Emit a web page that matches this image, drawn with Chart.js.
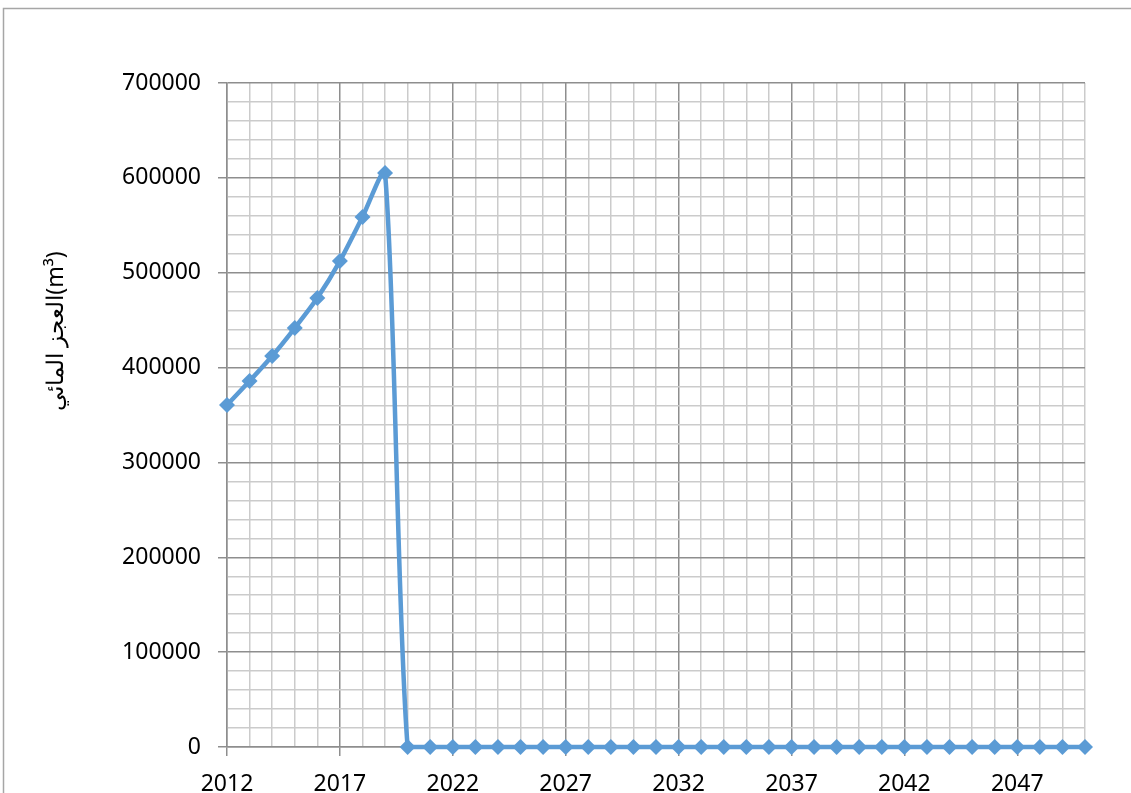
<!DOCTYPE html>
<html lang="en">
  <head>
    <meta charset="utf-8" />
    <title>العجز المائي</title>
    <script src="https://cdn.jsdelivr.net/npm/chart.js/dist/chart.umd.min.js"></script>
    <style>
      * {
        margin: 0;
        padding: 0;
      }
      body {
        background: #fff;
      }
      .chartBox {
        width: 1131px;
        height: 793px;
        position: relative;
      }
    </style>
  </head>
  <body>
    <div class="chartBox">
      <canvas id="myChart"></canvas>
    </div>

    <script>
      // years 2012..2050
      const years = [
        2012, 2013, 2014, 2015, 2016, 2017, 2018, 2019, 2020, 2021, 2022, 2023, 2024,
        2025, 2026, 2027, 2028, 2029, 2030, 2031, 2032, 2033, 2034, 2035, 2036, 2037,
        2038, 2039, 2040, 2041, 2042, 2043, 2044, 2045, 2046, 2047, 2048, 2049, 2050,
      ];
      // water deficit, m3
      const deficit = [
        360500, 385800, 412200, 441700, 473300, 512300, 558700, 605100, 0, 0, 0, 0, 0,
        0, 0, 0, 0, 0, 0, 0, 0, 0, 0, 0, 0, 0,
        0, 0, 0, 0, 0, 0, 0, 0, 0, 0, 0, 0, 0,
      ];
      const yTicks = [0, 100000, 200000, 300000, 400000, 500000, 600000, 700000];
      const axisTitle = "العجز المائي(m³)";

      const FONT = "Noto Sans";
      const LINE = "#5b9bd5";
      const MAJOR = "#8e8e8e";
      const MINOR = "#cbcbcb";

      // outer frame + rotated axis title
      const framePlugin = {
        id: "frame",
        beforeDraw(chart) {
          const ctx = chart.ctx;
          ctx.save();
          ctx.fillStyle = "#fff";
          ctx.fillRect(0, 0, chart.width, chart.height);
          ctx.strokeStyle = "#a6a6a6";
          ctx.lineWidth = 1.5;
          ctx.beginPath();
          ctx.moveTo(3.5, chart.height);
          ctx.lineTo(3.5, 8.5);
          ctx.lineTo(chart.width, 8.5);
          ctx.stroke();
          ctx.restore();
        },
        afterDraw(chart) {
          const ctx = chart.ctx;
          ctx.save();
          ctx.translate(56, 331);
          ctx.rotate(-Math.PI / 2);
          ctx.font = "23px '" + FONT + "'";
          ctx.fillStyle = "#000";
          ctx.textAlign = "center";
          ctx.textBaseline = "middle";
          ctx.fillText(axisTitle, 0, 0);
          ctx.restore();
        },
      };

      const config = {
        type: "line",
        data: {
          labels: years,
          datasets: [
            {
              data: deficit,
              borderColor: LINE,
              backgroundColor: LINE,
              borderWidth: 4.5,
              tension: 0.25,
              clip: false,
              pointStyle: "rectRot",
              pointRadius: 8,
              pointBorderWidth: 0,
              pointBackgroundColor: LINE,
            },
          ],
        },
        options: {
          responsive: true,
          maintainAspectRatio: false,
          animation: false,
          layout: {
            padding: { left: 0, top: 83, right: 46, bottom: 0 },
          },
          plugins: {
            legend: { display: false },
            tooltip: { enabled: false },
          },
          scales: {
            x: {
              type: "category",
              offset: false,
              afterFit(scale) {
                scale.height = 46;
              },
              border: { color: MAJOR, width: 1.5 },
              grid: {
                color: (c) => (c.index % 5 === 0 ? MAJOR : MINOR),
                tickColor: (c) => (c.index % 5 === 0 ? MAJOR : "rgba(0,0,0,0)"),
                lineWidth: 1.5,
                tickLength: 9,
              },
              ticks: {
                autoSkip: false,
                maxRotation: 0,
                color: "#000",
                padding: 15,
                font: { family: FONT, size: 23 },
                callback(value, index) {
                  return index % 5 === 0 ? years[index] : "";
                },
              },
            },
            y: {
              min: yTicks[0],
              max: yTicks[yTicks.length - 1],
              afterFit(scale) {
                scale.width = 227;
              },
              border: { color: MAJOR, width: 1.5 },
              grid: {
                color: (c) => (c.tick && yTicks.includes(c.tick.value) ? MAJOR : MINOR),
                tickColor: (c) =>
                  c.tick && yTicks.includes(c.tick.value) ? MAJOR : "rgba(0,0,0,0)",
                lineWidth: 1.5,
                tickLength: 9,
              },
              ticks: {
                autoSkip: false,
                stepSize: 20000,
                color: "#000",
                padding: 17,
                font: { family: FONT, size: 23 },
                callback(value) {
                  return yTicks.includes(value) ? String(value) : "";
                },
              },
            },
          },
        },
        plugins: [framePlugin],
      };

      new Chart(document.getElementById("myChart"), config);
    </script>
  </body>
</html>
